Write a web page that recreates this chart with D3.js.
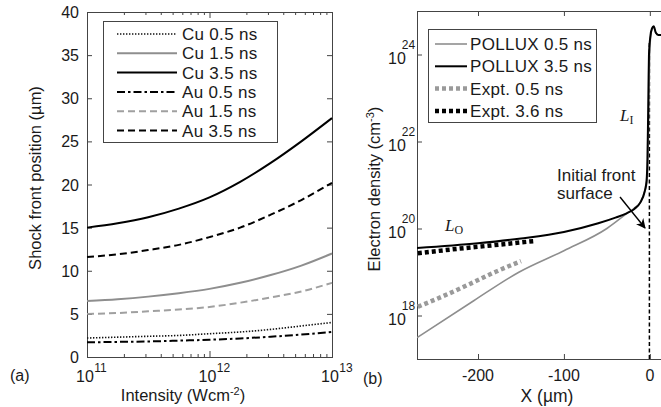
<!DOCTYPE html>
<html>
<head>
    <meta charset="utf-8">
    <title>Shock front position and electron density</title>
    <style>
        body { margin: 0; background: #fff; }
        svg { font-family: "Liberation Sans", Arial, sans-serif; }
        .frame { fill: none; stroke: #444; stroke-width: 1; }
        .tick line { stroke: #444; }
        .domain { display: none; }
        text { fill: #1a1a1a; }
        .leg { font-size: 17px; letter-spacing: 0.3px; }
    </style>
    <script src="https://cdn.jsdelivr.net/npm/d3@7"></script>
</head>
<body>
    <svg width="661" height="407"></svg>
    <script>
        // ---- panel (a) data: shock front position (um) vs intensity ----
        var intensity = [1e11, 1.78e11, 3.16e11, 5.62e11, 1e12, 1.78e12, 3.16e12, 5.62e12, 1e13];
        var cu05 = [2.2, 2.3, 2.4, 2.5, 2.7, 2.9, 3.2, 3.6, 4.0];
        var cu15 = [6.5, 6.7, 7.0, 7.4, 7.9, 8.6, 9.5, 10.6, 12.0];
        var cu35 = [15.0, 15.5, 16.2, 17.2, 18.5, 20.3, 22.5, 25.0, 27.7];
        var au05 = [1.7, 1.75, 1.8, 1.9, 2.0, 2.15, 2.35, 2.6, 2.9];
        var au15 = [5.0, 5.1, 5.3, 5.5, 5.8, 6.3, 6.9, 7.6, 8.6];
        var au35 = [11.6, 11.9, 12.4, 13.0, 13.9, 15.0, 16.5, 18.2, 20.2];
        var yTicksA = [0, 5, 10, 15, 20, 25, 30, 35, 40];
        var xTicksA = [1e11, 1e12, 1e13];

        // ---- panel (b) data: electron density (log10 cm^-3) vs X (um) ----
        var polluxX05 = [-271, -205, -153, -100, -50, -27, -18, -11, -6, -3.5, -2.2, -1.6, -1, -0.3, 0.5, 2.5, 4.5, 7, 10, 14];
        var polluxN05 = [17.49, 18.34, 18.99, 19.49, 20.0, 20.34, 20.47, 20.6, 20.85, 21.05, 21.5, 22.2, 23.1, 23.9, 24.3, 24.58, 24.62, 24.5, 24.45, 24.45];
        var polluxX35 = [-271, -200, -150, -100, -60, -40, -27, -18, -11, -6, -3.8, -2.8, -2.2, -1.6, -1, 0.5, 2.5, 4.5, 7, 10, 14];
        var polluxN35 = [19.55, 19.66, 19.77, 19.92, 20.12, 20.25, 20.35, 20.45, 20.6, 20.85, 21.1, 21.6, 22.3, 23.2, 24.0, 24.4, 24.6, 24.65, 24.5, 24.45, 24.45];
        var exptX05 = [-270, -240, -210, -180, -150];
        var exptN05 = [18.2, 18.45, 18.72, 19.0, 19.25];
        var exptX36 = [-270, -230, -190, -150, -135];
        var exptN36 = [19.43, 19.52, 19.6, 19.68, 19.71];
        var surfaceX = -0.5;
        var yTicksB = [18, 20, 22, 24];
        var xTicksB = [-200, -100, 0];

        var svg = d3.select("svg");

        function frame(x0, y0, x1, y1) {
            svg.append("rect").attr("class", "frame")
                .attr("x", x0 + 0.5).attr("y", y0 + 0.5)
                .attr("width", x1 - x0).attr("height", y1 - y0);
        }

        function powLabel(g, x, y, base, exp, anchorShift, supDx, supDy) {
            var t = g.append("text").attr("x", x + anchorShift).attr("y", y)
                .style("font-size", "16px");
            t.append("tspan").text(base);
            t.append("tspan").attr("dx", supDx).attr("dy", supDy)
                .style("font-size", "12px").text(exp);
        }

        // =================== panel (a) ===================
        var xA = d3.scaleLog().domain([1e11, 1e13]).range([87, 332]);
        var yA = d3.scaleLinear().domain([0, 40]).range([357, 12]);

        var minorA = [];
        [1e11, 1e12].forEach(function (d) {
            for (var k = 2; k <= 9; k++) minorA.push(d * k);
        });

        svg.append("g").attr("transform", "translate(0,357)")
            .call(d3.axisBottom(xA).tickValues(xTicksA).tickSizeInner(-6).tickSizeOuter(0).tickFormat(""));
        svg.append("g").attr("transform", "translate(0,357)")
            .call(d3.axisBottom(xA).tickValues(minorA).tickSizeInner(-3).tickSizeOuter(0).tickFormat(""));
        svg.append("g").attr("transform", "translate(0,12)")
            .call(d3.axisTop(xA).tickValues(xTicksA).tickSizeInner(-6).tickSizeOuter(0).tickFormat(""));
        svg.append("g").attr("transform", "translate(0,12)")
            .call(d3.axisTop(xA).tickValues(minorA).tickSizeInner(-3).tickSizeOuter(0).tickFormat(""));
        svg.append("g").attr("transform", "translate(87,0)")
            .call(d3.axisLeft(yA).tickValues(yTicksA).tickSizeInner(-5).tickSizeOuter(0).tickFormat(""));
        svg.append("g").attr("transform", "translate(332,0)")
            .call(d3.axisRight(yA).tickValues(yTicksA).tickSizeInner(-5).tickSizeOuter(0).tickFormat(""));
        frame(87, 12, 332, 357);

        var gA = svg.append("g");
        yTicksA.forEach(function (v) {
            gA.append("text").attr("x", 79).attr("y", yA(v) + 6)
                .attr("text-anchor", "end").style("font-size", "16px").text(v);
        });
        xTicksA.forEach(function (v) {
            powLabel(gA, xA(v), 382, "10", Math.round(Math.log10(v)), -11, 0.5, -10);
        });
        gA.append("text").attr("x", 183).attr("y", 401).attr("text-anchor", "middle")
            .style("font-size", "16.5px")
            .html('Intensity (Wcm<tspan dy="-6" style="font-size:11px">-2</tspan><tspan dy="6">)</tspan>');
        gA.append("text").attr("transform", "translate(41,178) rotate(-90)")
            .attr("text-anchor", "middle").style("font-size", "16.5px")
            .text("Shock front position (\u00b5m)");
        gA.append("text").attr("x", 10).attr("y", 381).style("font-size", "16px").text("(a)");

        var seriesA = [
            { name: "Cu 0.5 ns", v: cu05, color: "#111", width: 1.6, dash: "1.4,1.6" },
            { name: "Cu 1.5 ns", v: cu15, color: "#8e8e8e", width: 2, dash: null },
            { name: "Cu 3.5 ns", v: cu35, color: "#000", width: 2, dash: null },
            { name: "Au 0.5 ns", v: au05, color: "#000", width: 2, dash: "8,3,2.5,3" },
            { name: "Au 1.5 ns", v: au15, color: "#a0a0a0", width: 2, dash: "7,4" },
            { name: "Au 3.5 ns", v: au35, color: "#000", width: 2, dash: "7,4" }
        ];

        var lineA = d3.line()
            .curve(d3.curveMonotoneX)
            .x(function (d, i) { return xA(intensity[i]); })
            .y(function (d) { return yA(d); });

        seriesA.forEach(function (s) {
            svg.append("path").datum(s.v).attr("d", lineA)
                .attr("fill", "none").attr("stroke", s.color)
                .attr("stroke-width", s.width).attr("stroke-dasharray", s.dash);
        });

        // legend (a)
        var legA = svg.append("g");
        legA.append("rect").attr("x", 103.5).attr("y", 21.5).attr("width", 174).attr("height", 121)
            .attr("fill", "#fff").attr("stroke", "#444");
        seriesA.forEach(function (s, i) {
            var y = 34 + i * 19.3;
            legA.append("line").attr("x1", 117).attr("x2", 177).attr("y1", y).attr("y2", y)
                .attr("stroke", s.color).attr("stroke-width", s.width).attr("stroke-dasharray", s.dash);
            legA.append("text").attr("class", "leg").attr("x", 182).attr("y", y + 6).text(s.name);
        });

        // =================== panel (b) ===================
        var xB = d3.scaleLinear().domain([-271, 13]).range([417, 661]);
        var yB = d3.scaleLog().domain([1e17, 1e25]).range([359, 11]);

        svg.append("g").attr("transform", "translate(0,359)")
            .call(d3.axisBottom(xB).tickValues(xTicksB).tickSizeInner(-5).tickSizeOuter(0).tickFormat(""));
        svg.append("g").attr("transform", "translate(0,11)")
            .call(d3.axisTop(xB).tickValues(xTicksB).tickSizeInner(-5).tickSizeOuter(0).tickFormat(""));
        svg.append("g").attr("transform", "translate(417,0)")
            .call(d3.axisLeft(yB).tickValues(yTicksB.map(function (e) { return Math.pow(10, e); }))
                .tickSizeInner(-5).tickSizeOuter(0).tickFormat(""));
        frame(417, 11, 663, 359);

        var gB = svg.append("g");
        yTicksB.forEach(function (e) {
            powLabel(gB, 388, yB(Math.pow(10, e)) + 9, "10", e, 0, -4, -15);
        });
        xTicksB.forEach(function (v) {
            gB.append("text").attr("x", xB(v)).attr("y", 381).attr("text-anchor", "middle")
                .style("font-size", "16px").text(v === 0 ? "0" : "-" + Math.abs(v));
        });
        gB.append("text").attr("x", 547).attr("y", 402).attr("text-anchor", "middle")
            .style("font-size", "17.5px").text("X (\u00b5m)");
        gB.append("text").attr("transform", "translate(380,189) rotate(-90)")
            .attr("text-anchor", "middle").style("font-size", "16.5px")
            .html('Electron density (cm<tspan dy="-6" style="font-size:11px">-3</tspan><tspan dy="6">)</tspan>');
        gB.append("text").attr("x", 363).attr("y", 384).style("font-size", "16px").text("(b)");

        var lineB = d3.line()
            .curve(d3.curveMonotoneX)
            .x(function (d) { return xB(d[0]); })
            .y(function (d) { return yB(Math.pow(10, d[1])); });

        function pairs(xs, ns) { return xs.map(function (x, i) { return [x, ns[i]]; }); }

        // initial front surface
        svg.append("line")
            .attr("x1", xB(surfaceX)).attr("x2", xB(surfaceX))
            .attr("y1", yB(1e17)).attr("y2", yB(Math.pow(10, 24.3)))
            .attr("stroke", "#000").attr("stroke-width", 1.5).attr("stroke-dasharray", "4,2.5");

        var seriesB = [
            { name: "POLLUX 0.5 ns", d: pairs(polluxX05, polluxN05), color: "#8e8e8e", width: 1.6, dash: null },
            { name: "POLLUX 3.5 ns", d: pairs(polluxX35, polluxN35), color: "#000", width: 2, dash: null },
            { name: "Expt. 0.5 ns", d: pairs(exptX05, exptN05), color: "#9a9a9a", width: 4.5, dash: "4,3" },
            { name: "Expt. 3.6 ns", d: pairs(exptX36, exptN36), color: "#000", width: 4.5, dash: "4,3" }
        ];

        svg.append("clipPath").attr("id", "clipB").append("rect")
            .attr("x", 417).attr("y", 11).attr("width", 246).attr("height", 348);

        seriesB.forEach(function (s) {
            svg.append("path").datum(s.d).attr("d", lineB)
                .attr("clip-path", "url(#clipB)")
                .attr("fill", "none").attr("stroke", s.color)
                .attr("stroke-width", s.width).attr("stroke-dasharray", s.dash);
        });

        // legend (b)
        var legB = svg.append("g");
        legB.append("rect").attr("x", 428.5).attr("y", 29.5).attr("width", 168).attr("height", 93)
            .attr("fill", "#fff").attr("stroke", "#444");
        seriesB.forEach(function (s, i) {
            var y = 44 + i * 22.3;
            legB.append("line").attr("x1", 435).attr("x2", 467).attr("y1", y).attr("y2", y)
                .attr("stroke", s.color).attr("stroke-width", s.width)
                .attr("stroke-dasharray", s.dash);
            legB.append("text").attr("class", "leg").attr("x", 470).attr("y", y + 6).text(s.name);
        });

        // annotations
        svg.append("defs").append("marker").attr("id", "arrow")
            .attr("viewBox", "0 0 10 10").attr("refX", 9).attr("refY", 5)
            .attr("markerWidth", 7).attr("markerHeight", 7).attr("orient", "auto")
            .append("path").attr("d", "M0,0 L10,5 L0,10 L3,5 Z").attr("fill", "#000");
        svg.append("line").attr("x1", 620).attr("y1", 197).attr("x2", 645).attr("y2", 228)
            .attr("stroke", "#000").attr("stroke-width", 1.4).attr("marker-end", "url(#arrow)");
        svg.append("text").attr("x", 557).attr("y", 181).style("font-size", "17px").text("Initial front");
        svg.append("text").attr("x", 557).attr("y", 199).style("font-size", "17px").text("surface");

        function subLabel(x, y, sub) {
            var t = svg.append("text").attr("x", x).attr("y", y)
                .style("font-family", "'Liberation Serif', 'Times New Roman', serif").style("font-size", "17px");
            t.append("tspan").style("font-style", "italic").text("L");
            t.append("tspan").attr("dy", 3).style("font-size", "12px").text(sub);
        }
        subLabel(620, 121, "I");
        subLabel(445, 231, "O");
    </script>
</body>
</html>
